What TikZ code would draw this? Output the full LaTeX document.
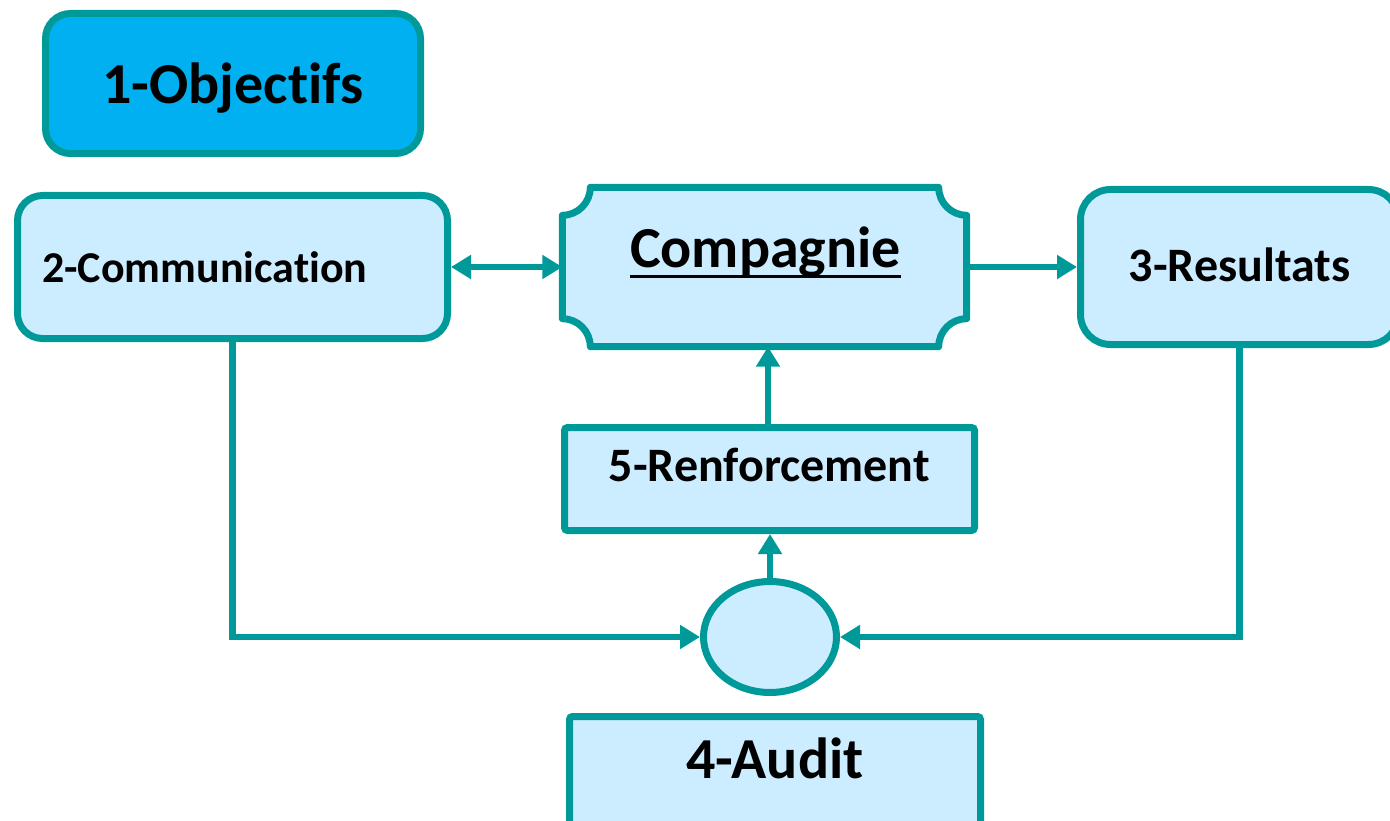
\documentclass[tikz,border=0pt]{standalone}
\usepackage{fontspec}
\setmainfont{Carlito}[Ligatures=NoCommon]
\usetikzlibrary{arrows.meta,shapes.geometric}
\definecolor{teal1}{HTML}{009999}
\definecolor{lightb}{HTML}{CCECFF}
\definecolor{objb}{HTML}{00B0F0}
\tikzset{
  boxbase/.style={draw=teal1, line width=7pt, fill=lightb, inner sep=0pt},
  rbox/.style={boxbase, rectangle, rounded corners=25pt},
  sbox/.style={boxbase, rectangle, rounded corners=3pt},
  lbl/.style={inner sep=0pt, font=\bfseries, text=black},
  conn/.style={draw=teal1, line width=6.5pt},
  tip/.tip={Triangle[length=20pt,width=23pt]}
}
\begin{document}
\begin{tikzpicture}[x=1pt,y=-1pt]
\useasboundingbox (0,0) rectangle (1390,821);
% boxes
\node[rbox, fill=objb, minimum width=375pt, minimum height=140pt] (obj) at (233,83.5) {};
\node[rbox, minimum width=430pt, minimum height=143pt] (comm) at (232.5,267) {};
\node[rbox, rounded corners=30pt, minimum width=318pt, minimum height=155pt] (res) at (1239.5,267) {};
\node[rectangle, inner sep=0pt, minimum width=404pt, minimum height=159pt] (comp) at (764.5,267) {};
\draw[draw=teal1, line width=7pt, fill=lightb, line join=round]
  ([yshift=-28pt]comp.north west) arc[start angle=270, end angle=360, radius=28pt]
  -- ([xshift=-28pt]comp.north east) arc[start angle=180, end angle=270, radius=28pt]
  -- ([yshift=28pt]comp.south east) arc[start angle=90, end angle=180, radius=28pt]
  -- ([xshift=28pt]comp.south west) arc[start angle=0, end angle=90, radius=28pt]
  -- cycle;
\node[sbox, minimum width=410pt, minimum height=103pt] (renf) at (769.5,479) {};
\node[sbox, minimum width=411pt, minimum height=114pt] (aud) at (775,773.5) {};
\node[boxbase, ellipse, minimum width=133pt, minimum height=111pt] (ell) at (770,637) {};
% labels
\node[lbl, font=\bfseries\fontsize{58}{60}\selectfont, anchor=base] (tobj) at (233,104) {1-Objectifs};
\node[lbl, font=\bfseries\fontsize{44}{46}\selectfont, anchor=base west] (tcomm) at (42,283) {2-Communication};
\node[lbl, font=\bfseries\fontsize{58}{60}\selectfont, anchor=base] (tcomp) at (765.5,268) {Compagnie};
\draw[line width=3pt] ([yshift=-9pt]tcomp.base west) -- ([yshift=-9pt]tcomp.base east);
\node[lbl, font=\bfseries\fontsize{48}{50}\selectfont, anchor=base] (tres) at (1239.5,282) {3-Resultats};
\node[lbl, font=\bfseries\fontsize{48}{50}\selectfont, anchor=base] (trenf) at (769.5,481) {5-Renforcement};
\node[lbl, font=\bfseries\fontsize{58}{60}\selectfont, anchor=base] (taud) at (775,778) {4-Audit};
% connectors
\draw[conn, {tip}-{tip}] (comm.east) -- (comp.west);
\draw[conn, -{tip}] (comp.east) -- (res.west);
\draw[conn, -{tip}] (renf.north -| 768,0) -- (comp.south -| 768,0);
\draw[conn, -{tip}] (ell.north) -- (renf.south -| ell.north);
\draw[conn, -{tip}] (comm.south) |- (ell.west);
\draw[conn, -{tip}] (res.south) |- (ell.east);
\end{tikzpicture}
\end{document}
